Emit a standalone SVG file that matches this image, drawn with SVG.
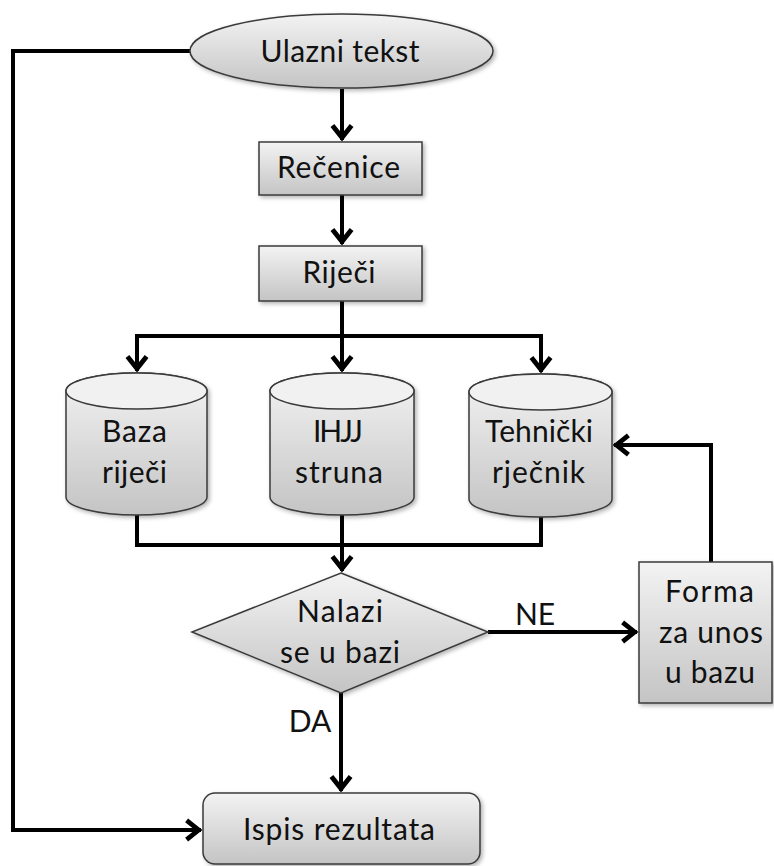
<svg xmlns="http://www.w3.org/2000/svg" width="774" height="866" viewBox="0 0 774 866">
<defs>
<linearGradient id="g" x1="0" y1="0" x2="0" y2="1">
<stop offset="0" stop-color="#f3f3f3"/>
<stop offset="1" stop-color="#c4c4c4"/>
</linearGradient>
<filter id="sh" x="-10%" y="-10%" width="125%" height="130%">
<feDropShadow dx="2" dy="2" stdDeviation="2" flood-color="#000" flood-opacity="0.3"/>
</filter>
<marker id="arr" markerUnits="userSpaceOnUse" markerWidth="24" markerHeight="24" viewBox="-14 -10 16 20" refX="0" refY="0" orient="auto">
<path d="M-12,-8 L-2,0 L-12,8" fill="none" stroke="#000" stroke-width="4" stroke-linejoin="miter"/>
</marker>
</defs>
<style>
.shape{fill:url(#g);stroke:#3a3a3a;stroke-width:1.5;filter:url(#sh)}
.top{fill:#f1f1f1;stroke:#3a3a3a;stroke-width:1.5}
.c{fill:none;stroke:#000;stroke-width:4;stroke-linejoin:miter}
.a{marker-end:url(#arr)}
text{font-family:Lato,"Open Sans","Liberation Sans",sans-serif;font-size:30px;fill:#111;text-anchor:middle}
</style>
<g id="connectors">
<path class="c" d="M190,51 H13 V830 H201" style="marker-end:url(#arr)"/>
<path class="c a" d="M342,89 V140"/>
<path class="c a" d="M342,195 V244"/>
<path class="c" d="M342,301 V336 M137,336 H541"/>
<path class="c a" d="M137,334 V371"/>
<path class="c a" d="M342,336 V371"/>
<path class="c a" d="M541,334 V372"/>
<path class="c" d="M137,515 V545 H541 V517"/>
<path class="c a" d="M342,515 V571"/>
<path class="c a" d="M488,632 H637"/>
<path class="c a" d="M711,562 V445 H614"/>
<path class="c a" d="M341,693 V791"/>
</g>
<g id="ulazni-tekst">
<ellipse class="shape" cx="341.5" cy="51" rx="151.5" ry="37"/>
<text x="340" y="62" textLength="159" lengthAdjust="spacing">Ulazni tekst</text>
</g>
<g id="recenice">
<rect class="shape" x="259" y="142" width="163" height="53"/>
<text x="338.5" y="178" textLength="123" lengthAdjust="spacing">Rečenice</text>
</g>
<g id="rijeci">
<rect class="shape" x="259" y="246" width="163" height="55"/>
<text x="339" y="283" textLength="73" lengthAdjust="spacing">Riječi</text>
</g>
<g id="baza-rijeci">
<path class="shape" d="M66,391 V497 A70.5,18 0 0 0 207,497 V391 A70.5,18 0 0 0 66,391 Z"/>
<ellipse class="top" cx="136.5" cy="391" rx="70.5" ry="18"/>
<text x="134.5" y="442" textLength="65" lengthAdjust="spacing">Baza</text>
<text x="134.5" y="483" textLength="65" lengthAdjust="spacing">riječi</text>
</g>
<g id="ihjj-struna">
<path class="shape" d="M270,391 V497 A72,18 0 0 0 414,497 V391 A72,18 0 0 0 270,391 Z"/>
<ellipse class="top" cx="342" cy="391" rx="72" ry="18"/>
<text x="338" y="442" textLength="50" lengthAdjust="spacing">IHJJ</text>
<text x="339" y="483" textLength="88" lengthAdjust="spacing">struna</text>
</g>
<g id="tehnicki-rjecnik">
<path class="shape" d="M469,392 V499 A71.5,18 0 0 0 612,499 V392 A71.5,18 0 0 0 469,392 Z"/>
<ellipse class="top" cx="540.5" cy="392" rx="71.5" ry="18"/>
<text x="539" y="442" textLength="108" lengthAdjust="spacing">Tehnički</text>
<text x="538.5" y="483" textLength="93" lengthAdjust="spacing">rječnik</text>
</g>
<g id="nalazi-se-u-bazi">
<polygon class="shape" points="341,573 488,632 341,693 192,632"/>
<text x="340" y="622" textLength="86" lengthAdjust="spacing">Nalazi</text>
<text x="340" y="663" textLength="120" lengthAdjust="spacing">se u bazi</text>
</g>
<g id="forma-za-unos">
<rect class="shape" x="639" y="562" width="133" height="141"/>
<text x="709.5" y="602" textLength="89" lengthAdjust="spacing">Forma</text>
<text x="711" y="643" textLength="104" lengthAdjust="spacing">za unos</text>
<text x="710" y="683" textLength="90" lengthAdjust="spacing">u bazu</text>
</g>
<g id="ispis-rezultata">
<rect class="shape" x="203" y="793" width="277" height="71" rx="12"/>
<text x="339" y="840" textLength="192" lengthAdjust="spacing">Ispis rezultata</text>
</g>
<g id="labels">
<text x="535" y="625">NE</text>
<text x="310" y="732">DA</text>
</g>
</svg>
